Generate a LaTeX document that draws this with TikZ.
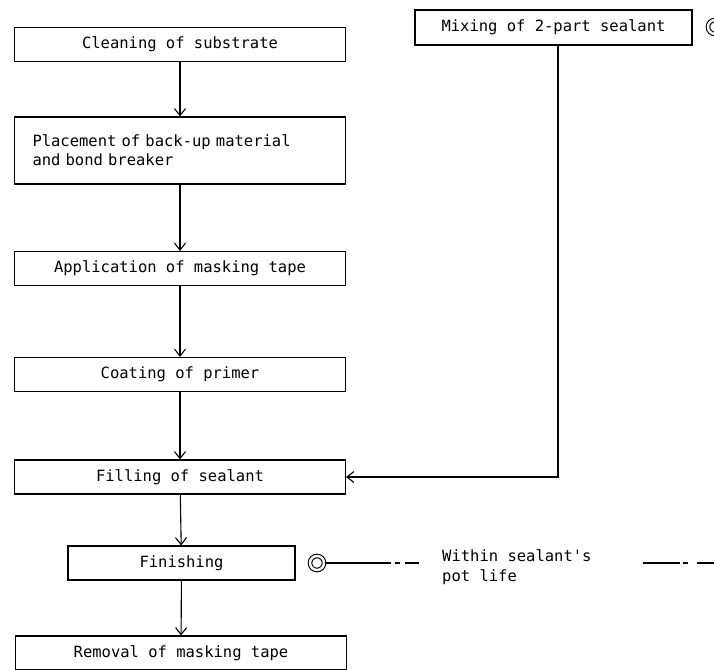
\documentclass[tikz,border=0pt]{standalone}
\usepackage{fontspec}
\setmonofont{DejaVu Sans Mono}
\usepackage{tikz}
\usetikzlibrary{arrows.meta,positioning,calc}

\begin{document}
\begin{tikzpicture}[x=1pt, y=-1pt,
  stepbox/.style={draw, line width=1.1pt, rectangle, minimum height=34, font=\ttfamily\fontsize{15.5}{19}\selectfont, inner sep=0pt},
  flow/.style={line width=1.1pt, -{Straight Barb[length=7pt, width=11pt, line width=1.1pt]}},
  ring/.style={draw, circle, double, double distance=2.4pt, line width=1.1pt, minimum size=14, inner sep=0pt},
  potline/.style={line width=1.1pt},
  note/.style={font=\ttfamily\fontsize{15.5}{20}\selectfont, align=left, inner sep=0pt}
]
\clip (0,0) rectangle (714,669);

% Steps
\node[stepbox, minimum width=331] (clean) at (180, 44.5) {Cleaning of substrate};
\node[stepbox, minimum height=67, text width=295, inner xsep=18, align=left] (place) at (180, 150.5) {Placement of back-up material\\and bond breaker};
\node[stepbox, minimum width=331] (appl) at (180, 268.5) {Application of masking tape};
\node[stepbox, minimum width=331] (coat) at (180, 374.5) {Coating of primer};
\node[stepbox, minimum width=331] (fill) at (180, 477) {Filling of sealant};
\node[stepbox, minimum width=227] (fin) at (181.5, 563) {Finishing};
\node[stepbox, minimum width=331] (remov) at (181, 653) {Removal of masking tape};
\node[stepbox, minimum width=277, minimum height=35] (mix) at (553.5, 27.5) {Mixing of 2-part sealant};

% Pot life marks
\node[ring] (mixring) at (715, 27) {};
\node[ring] (finring) at (317, 563) {};
\node[note, anchor=west] (potlife) at (442, 567) {Within sealant's\\pot life};
\coordinate (potleft) at (420, 563);
\coordinate (potright) at (643, 563);
\coordinate (potend) at (720, 563);

% Arrows
\draw[flow] (clean) -- (place);
\draw[flow] (place) -- (appl);
\draw[flow] (appl) -- (coat);
\draw[flow] (coat) -- (fill);
\draw[flow] (fill) -- (fin);
\draw[flow] (fin) -- (remov);
\draw[flow] ([xshift=4.5]mix.south) |- (fill.east);

% Pot life lines
\draw[potline, dash pattern=on 66pt off 4pt on 5pt off 5pt on 14pt] (finring.east) -- (potleft);
\draw[potline, dash pattern=on 37pt off 3pt on 5pt off 9pt on 30pt] (potright) -- (potend);

\end{tikzpicture}
\end{document}
